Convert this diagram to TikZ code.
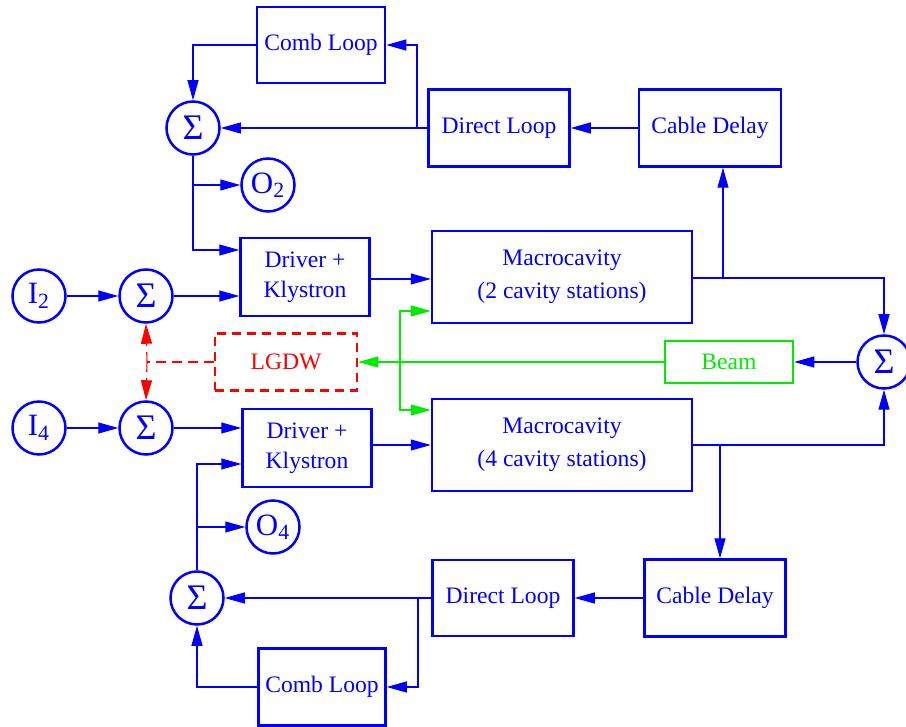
\documentclass[tikz,border=0pt]{standalone}
\usepackage{fontspec}
\setmainfont{Liberation Serif}
\usepackage{tikz}
\usetikzlibrary{arrows.meta}
\definecolor{FBBlue}{RGB}{0,0,255}
\definecolor{FBRed}{RGB}{255,0,0}
\definecolor{FBGreen}{RGB}{0,235,0}

\begin{document}
\begin{tikzpicture}[x=0.5pt, y=-0.5pt,
          blk/.style={rectangle, draw=FBBlue, line width=1.25pt, text=FBBlue,
                      align=center, inner sep=0pt,
                      font=\fontsize{11.8}{15}\selectfont},
          sumc/.style={circle, draw=FBBlue, line width=1.25pt, text=FBBlue,
                       minimum size=26.5pt, inner sep=0pt,
                       font=\fontsize{15.5}{17}\selectfont},
          sig/.style={sumc, font=\fontsize{18}{20}\selectfont},
          wire/.style={FBBlue, line width=0.55pt},
          tip/.style={-{Triangle[length=10pt, width=5.5pt]}}
        ]
        \useasboundingbox (0,0) rectangle (906,727);

        % Upper loop
        \node[blk, minimum width=64pt, minimum height=38pt] (combT) at (321,45) {Comb Loop};
        \node[blk, minimum width=70.5pt, minimum height=38.5pt] (dirT) at (499,128) {Direct Loop};
        \node[blk, minimum width=71pt, minimum height=38.5pt] (cabT) at (710,128) {Cable Delay};
        \node[sig] (sumT) at (193,128) {Σ};
        \node[sumc] (o2) at (268,185) {O\textsubscript{2}};

        % Upper chain
        \node[sumc] (i2) at (39,296) {I\textsubscript{2}};
        \node[sig] (sumI2) at (146,296) {Σ};
        \node[blk, minimum width=64.5pt, minimum height=39pt] (drvT) at (305,277) {Driver +\\Klystron};
        \node[blk, minimum width=130pt, minimum height=46pt,
              font=\fontsize{11.8}{16.5}\selectfont] (macT) at (562,277)
              {Macrocavity\\(2 cavity stations)};

        % Beam and LGDW
        \node[blk, draw=FBRed, dash pattern=on 4.5pt off 3pt, text=FBRed,
              minimum width=71pt, minimum height=28.5pt] (lgdw) at (286,362) {LGDW};
        \node[blk, draw=FBGreen, text=FBGreen, minimum width=64pt,
              minimum height=21pt] (beam) at (729,362) {Beam};
        \node[sig] (sumR) at (884,362) {Σ};

        % Lower chain
        \node[sumc] (i4) at (39,428) {I\textsubscript{4}};
        \node[sig] (sumI4) at (146,428) {Σ};
        \node[blk, minimum width=64.5pt, minimum height=39pt] (drvB) at (307,448) {Driver +\\Klystron};
        \node[blk, minimum width=130pt, minimum height=46pt,
              font=\fontsize{11.8}{16.5}\selectfont] (macB) at (562,445)
              {Macrocavity\\(4 cavity stations)};

        % Lower loop
        \node[sumc] (o4) at (273,527) {O\textsubscript{4}};
        \node[sig] (sumB) at (197,598) {Σ};
        \node[blk, minimum width=70.5pt, minimum height=38pt] (dirB) at (503,598) {Direct Loop};
        \node[blk, minimum width=70.5pt, minimum height=38.5pt] (cabB) at (715,598) {Cable Delay};
        \node[blk, minimum width=63.5pt, minimum height=38.5pt] (combB) at (322,687) {Comb Loop};

        % Junctions
        \coordinate (jT) at (417,128);
        \coordinate (jM2) at (723,278);
        \coordinate (jM4) at (720,445);
        \coordinate (jG) at (400,362);
        \coordinate (jL) at (147,362);
        \coordinate (jB) at (418,598);

        % Upper loop wires
        \draw[wire, tip] (cabT.west) -- (dirT.east);
        \draw[wire, tip] (dirT.west) -- (sumT.east);
        \draw[wire, tip] (jT) |- (combT.east);
        \draw[wire, tip] (combT.west) -| (sumT.north);
        \draw[wire, tip] (sumT.south) |- (drvT.west |- 0,250);
        \draw[wire, tip] (sumT.south |- o2) -- (o2.west);

        % Upper chain wires
        \draw[wire, tip] (i2.east) -- (sumI2.west);
        \draw[wire, tip] (sumI2.east) -- (sumI2.east -| drvT.west);
        \draw[wire, tip] (drvT.east |- 0,279) -- (macT.west |- 0,279);
        \draw[wire] (macT.east |- jM2) -- (jM2);
        \draw[wire, tip] (jM2) -- (jM2 |- cabT.south);
        \draw[wire, tip] (jM2) -| (sumR.north);

        % Lower chain wires
        \draw[wire, tip] (i4.east) -- (sumI4.west);
        \draw[wire, tip] (sumI4.east) -- (sumI4.east -| drvB.west);
        \draw[wire, tip] (drvB.east |- macB.west) -- (macB.west);
        \draw[wire] (macB.east) -- (jM4);
        \draw[wire, tip] (jM4) -- (jM4 |- cabB.north);
        \draw[wire, tip] (jM4) -| (sumR.south);

        % Beam feedback
        \draw[wire, tip] (sumR.west) -- (beam.east);
        \draw[wire, FBGreen, tip] (beam.west) -- (lgdw.east);
        \draw[wire, FBGreen, tip] (jG) |- (macT.west |- 0,311);
        \draw[wire, FBGreen, tip] (jG) |- (macB.west |- 0,410);

        % LGDW to both sums
        \draw[wire, FBRed, dash pattern=on 5pt off 3pt] (lgdw.west) -- (jL);
        \draw[wire, FBRed, dash pattern=on 5pt off 3pt, tip] (jL) -- (sumI2.south);
        \draw[wire, FBRed, dash pattern=on 5pt off 3pt, tip] (jL) -- (sumI4.north);

        % Lower loop wires
        \draw[wire, tip] (cabB.west) -- (dirB.east);
        \draw[wire, tip] (dirB.west) -- (sumB.east);
        \draw[wire, tip] (jB) |- (combB.east);
        \draw[wire, tip] (combB.west) -| (sumB.south);
        \draw[wire, tip] (sumB.north) |- (drvB.west |- 0,464);
        \draw[wire, tip] (sumB.north |- o4) -- (o4.west);
      \end{tikzpicture}
\end{document}
